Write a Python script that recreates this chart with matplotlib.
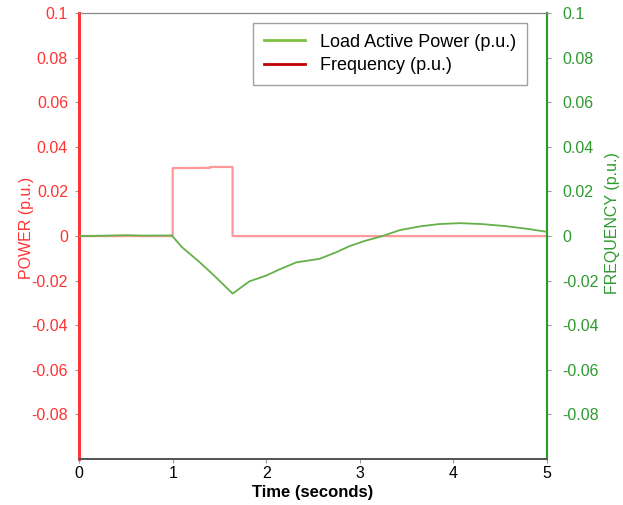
import numpy as np
import matplotlib.pyplot as plt
from matplotlib.lines import Line2D

plt.rcParams['font.family'] = ['Liberation Sans', 'DejaVu Sans']

# Load active power (step), left axis
power_t = [0, 1.0, 1.0, 1.4, 1.4, 1.64, 1.64, 5.0]
power_v = [0, 0, 0.0305, 0.0306, 0.0310, 0.0310, 0, 0]

# Frequency deviation, right axis
freq_t = [0, 0.3, 0.5, 0.7, 0.99, 1.1, 1.285, 1.45, 1.64, 1.82, 2.0, 2.15, 2.32, 2.57,
          2.75, 2.89, 3.05, 3.24, 3.43, 3.65, 3.85, 4.07, 4.3, 4.55, 4.8, 5.0]
freq_v = [0, 0.0002, 0.0004, 0.0002, 0.0003, -0.005, -0.0116, -0.018, -0.0258, -0.0203,
          -0.0177, -0.0148, -0.0118, -0.0102, -0.0072, -0.0045, -0.0022, 0.0, 0.0027,
          0.0044, 0.0054, 0.0058, 0.0054, 0.0045, 0.0032, 0.0019]

yticks = [-0.08, -0.06, -0.04, -0.02, 0, 0.02, 0.04, 0.06, 0.08, 0.1]
ytick_labels = ['-0.08', '-0.06', '-0.04', '-0.02', '0', '0.02', '0.04', '0.06', '0.08', '0.1']

red = '#ff3333'
green = '#2e9a2e'

fig = plt.figure(figsize=(6.23, 5.05), dpi=100)
ax = fig.add_axes([0.127, 0.091, 0.751, 0.883])
ax2 = ax.twinx()

ax.plot(power_t, power_v, color='#ff9999', lw=1.6, zorder=2)
ax2.plot(freq_t, freq_v, color='#66b04a', lw=1.3, zorder=3)

for a in (ax, ax2):
    a.set_xlim(0, 5)
    a.set_ylim(-0.1, 0.1)
    a.set_yticks(yticks)
    a.set_yticklabels(ytick_labels)
    a.tick_params(length=3, color='#999999', labelsize=11.5, pad=5)

ax.tick_params(axis='y', labelcolor=red)
ax2.tick_params(axis='y', labelcolor=green, pad=8)
ax.set_xticks([0, 1, 2, 3, 4, 5])
ax.tick_params(axis='x', labelsize=11.5, pad=2)

for a in (ax, ax2):
    a.spines['top'].set_color('#888888')
    a.spines['bottom'].set_color('#555555')
    a.spines['bottom'].set_linewidth(1.3)
    a.spines['left'].set_color(red)
    a.spines['left'].set_linewidth(2)
    a.spines['right'].set_color(green)
    a.spines['right'].set_linewidth(1.5)

ax.set_xlabel('Time (seconds)', fontsize=12, fontweight='bold', labelpad=3)
ax.set_ylabel('POWER (p.u.)', color=red, fontsize=11.5)
ax.yaxis.set_label_coords(-0.096, 0.518)
ax2.set_ylabel('FREQUENCY (p.u.)', color=green, fontsize=11.5, rotation=90)
ax2.yaxis.set_label_coords(1.125, 0.53)

handles = [Line2D([], [], color='#7dc142', lw=2),
           Line2D([], [], color='#c00000', lw=2)]
leg = ax2.legend(handles, ['Load Active Power (p.u.)', 'Frequency (p.u.)'],
                 loc='upper right', bbox_to_anchor=(0.957, 0.978), borderaxespad=0,
                 fontsize=13, frameon=True, fancybox=False, edgecolor='#888888',
                 handlelength=2.3, handletextpad=0.8, labelspacing=0.35, borderpad=0.6)
leg.get_frame().set_linewidth(1)

fig.savefig('out.png', dpi=100)
